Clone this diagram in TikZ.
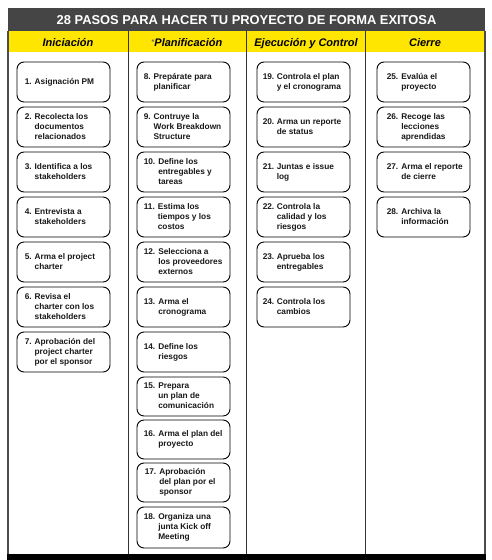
\documentclass[tikz,border=0pt]{standalone}
\usepackage{fontspec}
\setmainfont{Liberation Sans}
\definecolor{titlegray}{RGB}{69,69,69}
\definecolor{hdryellow}{RGB}{255,230,0}
\tikzset{
  pbox/.style={draw=black, line width=0.9pt, rounded corners=7pt, minimum width=93pt, inner sep=0pt, fill=white},
  ptxt/.style={inner sep=0pt, font=\fontsize{8.3}{10}\selectfont\bfseries, text=black!90},
  colline/.style={line width=1pt, draw=black!80},
  outerline/.style={line width=1.6pt, draw=black!70},
  hdr/.style={font=\fontsize{11}{13}\selectfont\bfseries\itshape, inner sep=0pt, anchor=base}
}
\newcommand\pstep[8]{%
  \node[pbox, minimum height=#4pt] (b#1) at (#2,#3) {};
  \node[ptxt, anchor=west] (t#1) at ([xshift=#5pt]b#1.west) {\begin{tabular}{@{}l@{\hspace{#6pt}}l@{}}#7 & #8\end{tabular}};
}
\begin{document}
\begin{tikzpicture}[x=1pt,y=-1pt]
\useasboundingbox (0,0) rectangle (492,560);
% bands
\fill[titlegray] (8,8) rectangle (485,31);
\fill[hdryellow] (8,31) rectangle (485,52);
\node[inner sep=0pt, anchor=base, text=white, font=\fontsize{12.9}{15}\selectfont\bfseries] (title) at (246.5,24.5) {28 PASOS PARA HACER TU PROYECTO DE FORMA EXITOSA};
\node[hdr] (h1) at (68,46) {Iniciación};
\node[hdr] (h2) at (187,46) {{\fontsize{7}{8}\selectfont\upshape\color{black!60}\raisebox{2pt}{*}}Planificación};
\node[hdr] (h3) at (306,46) {Ejecución y Control};
\node[hdr] (h4) at (425,46) {Cierre};
% column lines
\draw[outerline] (8,31) -- (8,554);
\draw[outerline] (485,31) -- (485,554);
\draw[colline] (128,31) -- (128,554);
\draw[colline] (246.5,31) -- (246.5,554);
\draw[colline] (365,31) -- (365,554);
\fill[black] (7,553.5) rectangle (486,560);
% column 1
\pstep{1}{63.5}{82}{40}{8}{3}{1.}{Asignación PM}
\pstep{2}{63.5}{127}{40}{8}{3}{2.}{Recolecta los\\ & documentos\\ & relacionados}
\pstep{3}{63.5}{172}{40}{8}{3}{3.}{Identifica a los\\ & stakeholders}
\pstep{4}{63.5}{217}{40}{8}{3}{4.}{Entrevista a\\ & stakeholders}
\pstep{5}{63.5}{262}{40}{8}{3}{5.}{Arma el project\\ & charter}
\pstep{6}{63.5}{307}{40}{8}{3}{6.}{Revisa el\\ & charter con los\\ & stakeholders}
\pstep{7}{63.5}{352}{40}{8}{3}{7.}{Aprobación del\\ & project charter\\ & por el sponsor}
% column 2
\pstep{8}{183.5}{82}{40}{7}{3}{8.}{Prepárate para\\ & planificar}
\pstep{9}{183.5}{127}{40}{7}{3}{9.}{Contruye la\\ & Work Breakdown\\ & Structure}
\pstep{10}{183.5}{172}{40}{7}{3}{10.}{Define los\\ & entregables y\\ & tareas}
\pstep{11}{183.5}{217}{40}{7}{3}{11.}{Estima los\\ & tiempos y los\\ & costos}
\pstep{12}{183.5}{262}{40}{7}{3}{12.}{Selecciona a\\ & los proveedores\\ & externos}
\pstep{13}{183.5}{307}{40}{7}{3}{13.}{Arma el\\ & cronograma}
\pstep{14}{183.5}{352}{40}{7}{3}{14.}{Define los\\ & riesgos}
\pstep{15}{183.5}{396.5}{39}{7}{3}{15.}{Prepara\\ & un plan de\\ & comunicación}
\pstep{16}{183.5}{439.5}{39}{7}{3}{16.}{Arma el plan del\\ & proyecto}
\pstep{17}{183.5}{482.5}{39}{8}{3}{17.}{Aprobación\\ & del plan por el\\ & sponsor}
\pstep{18}{183.5}{527.5}{41}{7}{3}{18.}{Organiza una\\ & junta Kick off\\ & Meeting}
% column 3
\pstep{19}{303.5}{82}{40}{6}{2.5}{19.}{Controla el plan\\ & y el cronograma}
\pstep{20}{303.5}{127}{40}{6}{2.5}{20.}{Arma un reporte\\ & de status}
\pstep{21}{303.5}{172}{40}{6}{2.5}{21.}{Juntas e issue\\ & log}
\pstep{22}{303.5}{217}{40}{6}{2.5}{22.}{Controla la\\ & calidad y los\\ & riesgos}
\pstep{23}{303.5}{262}{40}{6}{2.5}{23.}{Aprueba los\\ & entregables}
\pstep{24}{303.5}{307}{40}{6}{2.5}{24.}{Controla los\\ & cambios}
% column 4
\pstep{25}{423.5}{82}{40}{10}{3}{25.}{Evalúa el\\ & proyecto}
\pstep{26}{423.5}{127}{40}{10}{3}{26.}{Recoge las\\ & lecciones\\ & aprendidas}
\pstep{27}{423.5}{172}{40}{10}{3}{27.}{Arma el reporte\\ & de cierre}
\pstep{28}{423.5}{217}{40}{10}{3}{28.}{Archiva la\\ & información}
\end{tikzpicture}
\end{document}
